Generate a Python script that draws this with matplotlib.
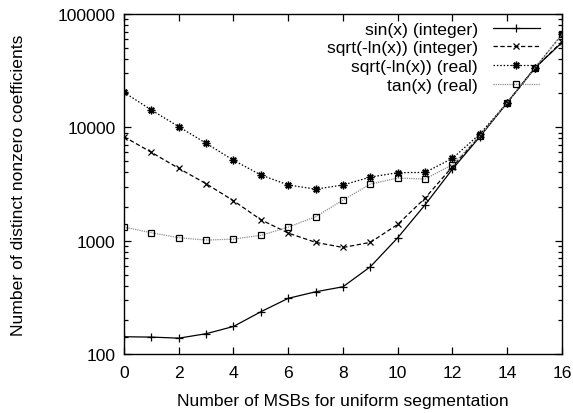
import numpy as np
import matplotlib
matplotlib.use("Agg")
import matplotlib.pyplot as plt
from matplotlib.ticker import LogLocator, NullFormatter, FixedLocator

plt.rcParams["font.family"] = ["Liberation Sans", "DejaVu Sans"]

msb = list(range(17))

sin_int = [142, 141, 138, 151, 175, 236, 310, 354, 392, 589, 1062, 2075,
           4285, 8260, 16500, 33200, 56000]
sqrt_int = [8260, 6020, 4345, 3180, 2250, 1530, 1167, 966, 871, 966, 1392,
            2377, 4500, 8400, 16500, 33200, 57000]
sqrt_real = [20370, 14220, 10130, 7230, 5120, 3800, 3100, 2850, 3100, 3640,
             3980, 4000, 5330, 8730, 16500, 33200, 66000]
tan_real = [1318, 1175, 1062, 1012, 1033, 1113, 1318, 1626, 2280, 3160, 3570,
            3500, 4680, 8400, 16500, 33200, 66000]

labels = ["sin(x) (integer)", "sqrt(-ln(x)) (integer)",
          "sqrt(-ln(x)) (real)", "tan(x) (real)"]

fig = plt.figure(figsize=(5.73, 4.14), dpi=100)
ax = fig.add_axes([0.2164, 0.1425, 0.7644, 0.8213])

fs = 12.6
ax.plot(msb, sin_int, color="black", lw=0.9, ls="-", marker="+", ms=6,
        mew=0.9, label=labels[0])
ax.plot(msb, sqrt_int, color="black", lw=0.9, ls=(0, (3.5, 2)), marker="x",
        ms=5, mew=0.9, label=labels[1])
ax.plot(msb, sqrt_real, color="black", lw=0.9, ls=(0, (1.2, 1.5)),
        marker=(8, 2, 0), ms=5.5, mew=1.0, label=labels[2])
ax.plot(msb, tan_real, color="#909090", lw=0.9, ls=(0, (1, 0.8)), marker="s",
        ms=5, mew=0.9, mfc="none", mec="black", label=labels[3])

ax.set_yscale("log")
ax.set_xlim(0, 16)
ax.set_ylim(100, 100000)
ax.xaxis.set_major_locator(FixedLocator(range(0, 17, 2)))
ax.yaxis.set_major_locator(LogLocator(base=10))
ax.yaxis.set_minor_locator(LogLocator(base=10, subs=np.arange(2, 10)))
ax.yaxis.set_minor_formatter(NullFormatter())
ax.yaxis.set_major_formatter(matplotlib.ticker.FuncFormatter(lambda v, p: f"{int(round(v))}"))

ax.tick_params(which="both", direction="in", top=True, right=True,
               labelsize=fs, width=0.9)
ax.tick_params(which="major", length=5, pad=6)
ax.tick_params(axis="x", which="major", pad=8)
ax.tick_params(which="minor", length=3)
for s in ax.spines.values():
    s.set_linewidth(1.0)

ax.set_xlabel("Number of MSBs for uniform segmentation", fontsize=fs, labelpad=9)
ax.set_ylabel("Number of distinct nonzero coefficients", fontsize=fs, labelpad=23)

leg = ax.legend(loc="upper right", bbox_to_anchor=(0.95, 0.978), frameon=False,
                markerfirst=False, fontsize=fs, handlelength=2.7,
                handletextpad=0.85, labelspacing=0.2, borderpad=0,
                borderaxespad=0)

fig.savefig("out.png", dpi=100)
